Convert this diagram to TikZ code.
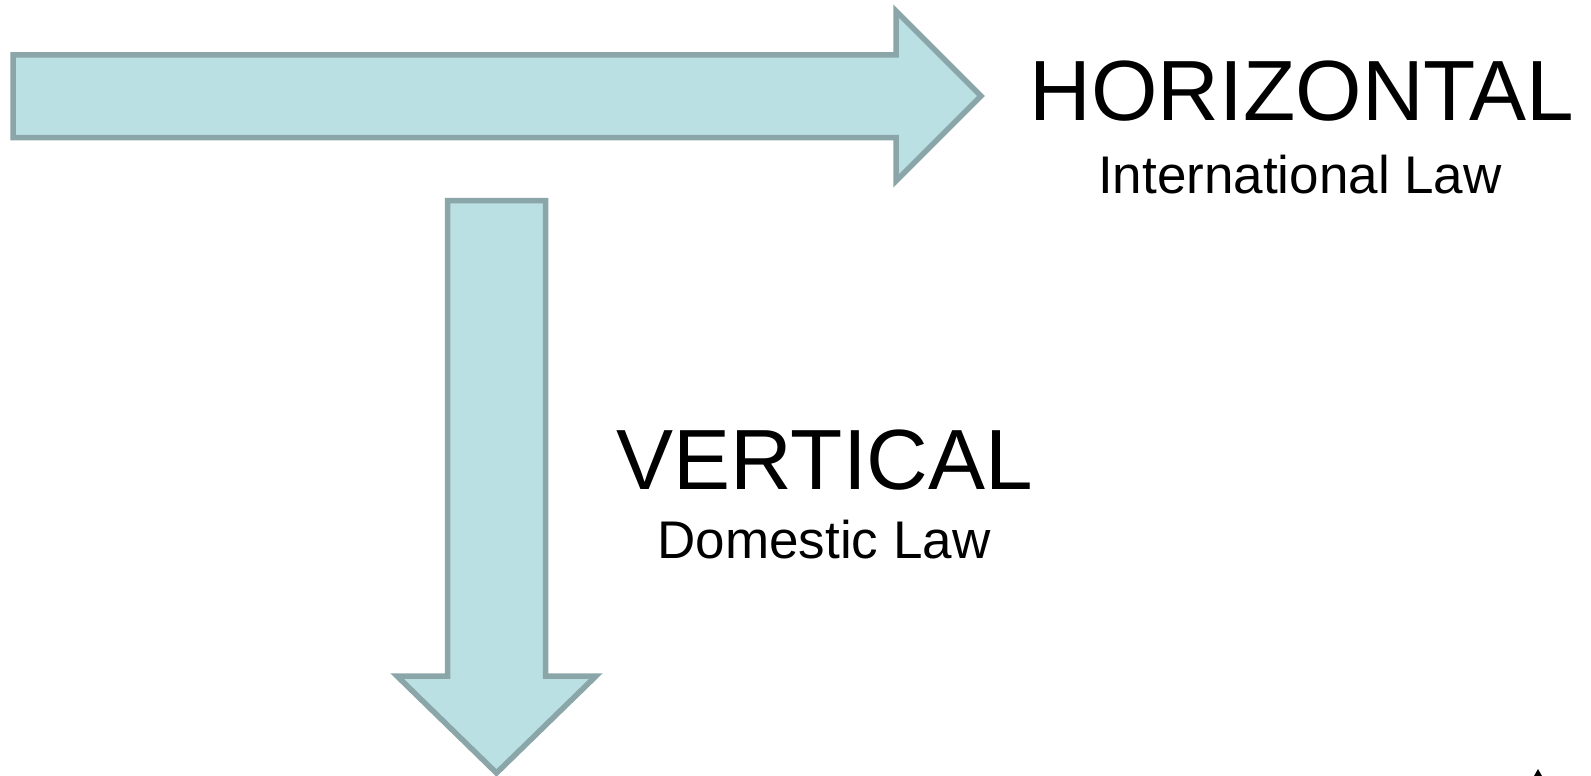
\documentclass[tikz,border=0pt]{standalone}
\usepackage{fontspec}
\setmainfont{Liberation Sans}
\definecolor{arrowfill}{RGB}{187,224,227}
\definecolor{arrowline}{RGB}{138,166,168}
\tikzset{
  bigarrow/.style={fill=arrowfill, draw=arrowline, line width=5.5pt, line join=miter, miter limit=10},
  titletext/.style={inner sep=0pt, anchor=base, font=\fontsize{85.5}{100}\selectfont},
  subtext/.style={inner sep=0pt, anchor=base, font=\fontsize{53}{64}\selectfont},
}
\begin{document}
\begin{tikzpicture}[x=1pt, y=-1pt]
\useasboundingbox (0,0) rectangle (1591,776);
% horizontal arrow
\draw[bigarrow] (13,55) -- (896,55) -- (896,11) -- (981,96) -- (896,181) -- (896,137.5) -- (13,137.5) -- cycle;
% vertical arrow
\draw[bigarrow] (447.5,200.5) -- (545.5,200.5) -- (545.5,676) -- (596,676) -- (496.5,773) -- (397,676) -- (447.5,676) -- cycle;
% texts
\node[titletext] (horiz) at (1302,121) {HORIZONTAL};
\node[subtext] (intl) at (1300,193) {International Law};
\node[titletext] (vert) at (825,489) {VERTICAL};
\node[subtext] (dom) at (824,558) {Domestic Law};
% small mark at bottom right
\fill (1534,776) -- (1538,769) -- (1542,776) -- cycle;
\end{tikzpicture}
\end{document}
